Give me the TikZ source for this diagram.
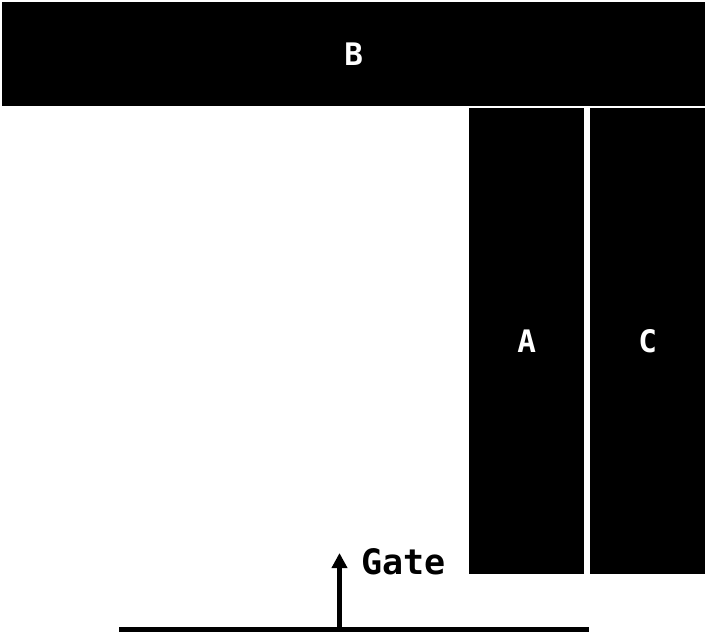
\documentclass[tikz,border=0pt]{standalone}
\usepackage{fontspec}
\setmonofont{DejaVu Sans Mono}
\usetikzlibrary{arrows.meta}
\tikzset{
  blk/.style={fill=black, draw=none, text=white, font=\ttfamily\bfseries\fontsize{31}{37}\selectfont, inner sep=0pt, anchor=north west},
  lbl/.style={font=\ttfamily\bfseries\fontsize{35}{42}\selectfont, text=black, inner sep=0pt, anchor=base west}
}
\begin{document}
\begin{tikzpicture}[x=1pt,y=-1pt]
\useasboundingbox (0,0) rectangle (707,632);
\node[blk, minimum width=703pt, minimum height=104pt] (B) at (2,2) {B};
\node[blk, minimum width=115pt, minimum height=466pt] (A) at (469,108) {A};
\node[blk, minimum width=115pt, minimum height=466pt] (C) at (590,108) {C};
\coordinate (L) at (119,629);
\coordinate (R) at (589,629);
\coordinate (M) at (339.5,629);
\coordinate (T) at (339.5,553);
\draw[line width=5pt] (L) -- (R);
\draw[line width=4.5pt, -{Triangle[length=15pt,width=15pt]}] (M) -- (T);
\node[lbl] (gate) at (361,574) {Gate};
\end{tikzpicture}
\end{document}
